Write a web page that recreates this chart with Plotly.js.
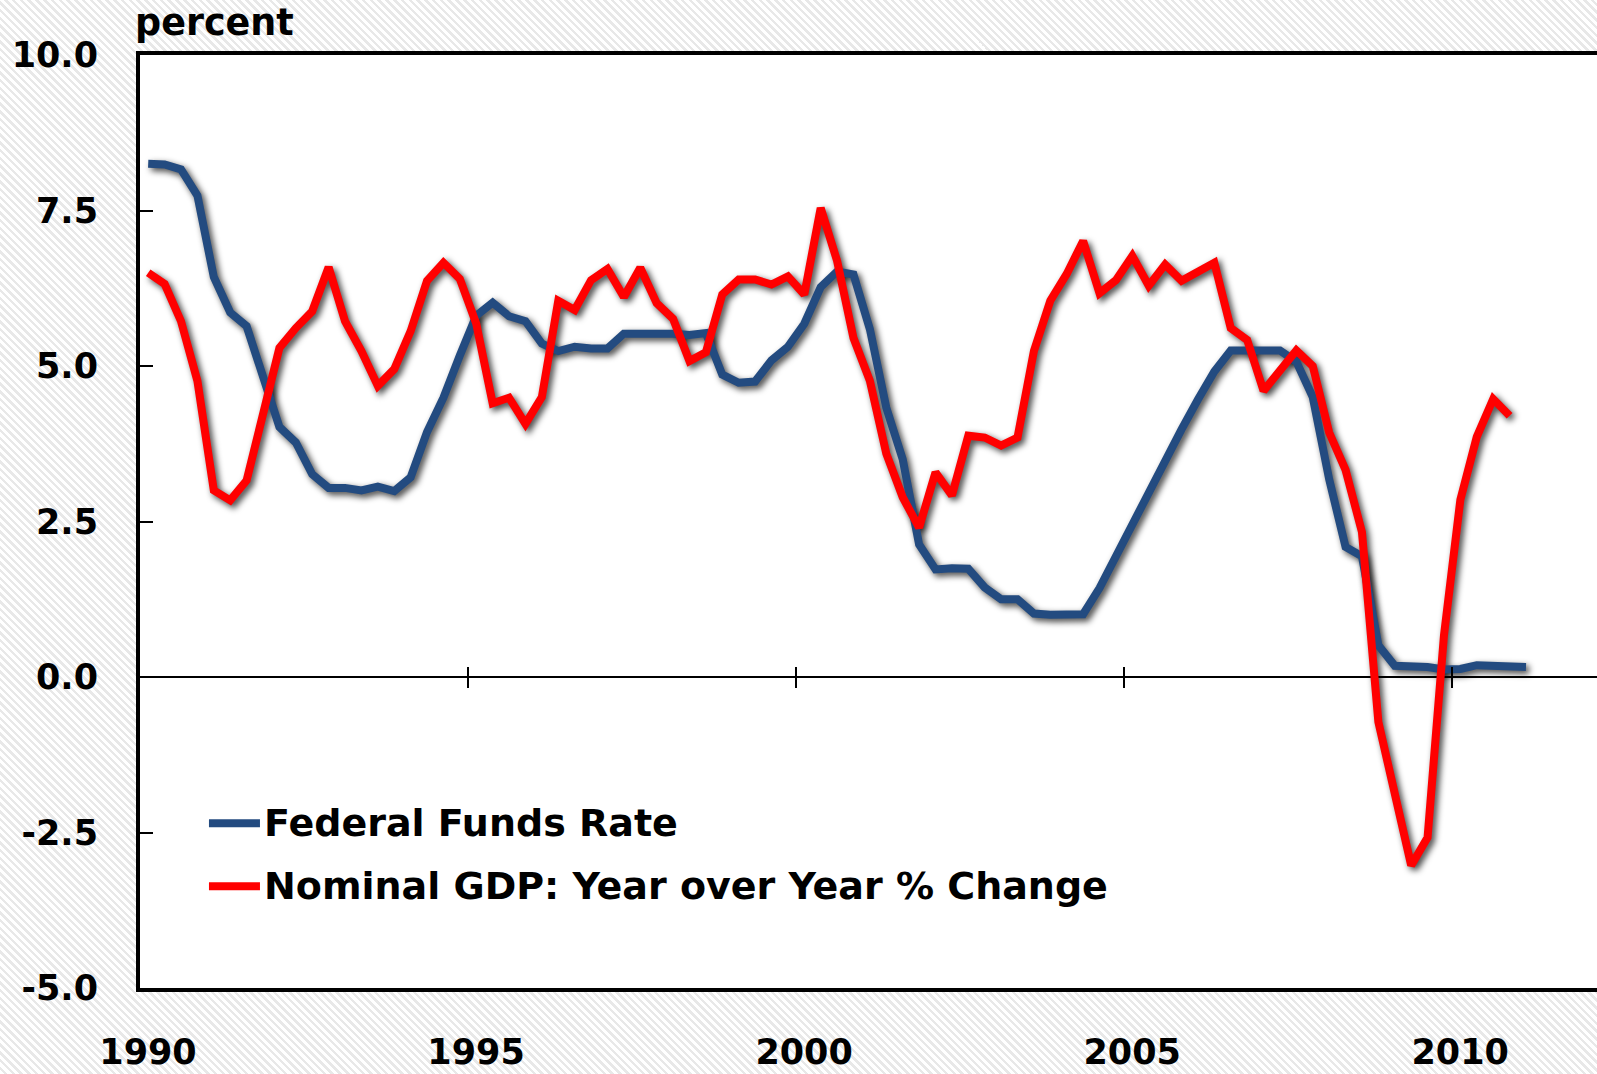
<!DOCTYPE html>
<html>
<head>
<meta charset="utf-8">
<script src="https://cdn.plot.ly/plotly-3.0.1.min.js"></script>
<style>
  html, body { margin: 0; padding: 0; width: 1597px; height: 1074px; overflow: hidden; }
  body { background: repeating-linear-gradient(45deg, #ffffff 0px, #ffffff 3px, #e8e8e8 3px, #e8e8e8 5.5px); }
  #chart { width: 1659px; height: 1074px; }
</style>
</head>
<body>
<svg width="0" height="0" style="position:absolute">
  <defs>
    <filter id="softShadow" x="-10%" y="-10%" width="120%" height="120%">
      <feGaussianBlur stdDeviation="3"/>
    </filter>
  </defs>
</svg>
<div id="chart"></div>
<script>
// ---------------- DATA ----------------
const firstYear = 1990;              // first quarter shown: 1990 Q1

const seriesNames = ['Federal Funds Rate', 'Nominal GDP: Year over Year % Change'];

// Federal funds rate, quarterly, 1990Q1 .. 2011Q1 (percent)
const fedFundsRate = [
  8.25, 8.24, 8.16, 7.74,   // 1990
  6.43, 5.86, 5.64, 4.82,   // 1991
  4.02, 3.77, 3.26, 3.04,   // 1992
  3.04, 3.00, 3.06, 2.99,   // 1993
  3.21, 3.94, 4.49, 5.17,   // 1994
  5.81, 6.02, 5.80, 5.72,   // 1995
  5.36, 5.24, 5.31, 5.28,   // 1996
  5.28, 5.52, 5.53, 5.51,   // 1997
  5.52, 5.50, 5.53, 4.86,   // 1998
  4.73, 4.75, 5.09, 5.31,   // 1999
  5.68, 6.27, 6.52, 6.47,   // 2000
  5.59, 4.33, 3.50, 2.13,   // 2001
  1.73, 1.75, 1.74, 1.44,   // 2002
  1.25, 1.25, 1.02, 1.00,   // 2003
  1.00, 1.01, 1.43, 1.95,   // 2004
  2.47, 2.94, 3.46, 3.98,   // 2005
  4.46, 4.91, 5.25, 5.25,   // 2006
  5.26, 5.25, 5.07, 4.50,   // 2007
  3.18, 2.09, 1.94, 0.51,   // 2008
  0.18, 0.18, 0.16, 0.12,   // 2009
  0.13, 0.19, 0.19, 0.19,   // 2010
  0.16                      // 2011
];

// Nominal GDP, year-over-year % change, quarterly, 1990Q1 .. 2010Q4
const nominalGdpYoY = [
  6.50, 6.32, 5.72, 4.76,   // 1990
  3.00, 2.84, 3.16, 4.25,   // 1991
  5.29, 5.61, 5.88, 6.59,   // 1992
  5.72, 5.24, 4.68, 4.95,   // 1993
  5.56, 6.37, 6.66, 6.40,   // 1994
  5.68, 4.40, 4.49, 4.07,   // 1995
  4.50, 6.05, 5.90, 6.38,   // 1996
  6.56, 6.11, 6.58, 6.01,   // 1997
  5.76, 5.08, 5.22, 6.15,   // 1998
  6.39, 6.39, 6.31, 6.44,   // 1999
  6.15, 7.54, 6.69, 5.45,   // 2000
  4.76, 3.59, 2.89, 2.40,   // 2001
  3.29, 2.92, 3.88, 3.85,   // 2002
  3.72, 3.85, 5.24, 6.05,   // 2003
  6.48, 7.01, 6.17, 6.38,   // 2004
  6.77, 6.29, 6.63, 6.37,   // 2005
  6.50, 6.66, 5.61, 5.42,   // 2006
  4.60, 4.95, 5.25, 5.00,   // 2007
  3.93, 3.33, 2.33, -0.72,  // 2008
  -1.88, -3.03, -2.58, 0.67,// 2009
  2.85, 3.86, 4.47, 4.20    // 2010
];

const xTickVals = [1990, 1995, 2000, 2005, 2010];
const xTickText = ['1990', '1995', '2000', '2005', '2010'];
const xCrossTickVals = [1995, 2000, 2005, 2010];
const yTickVals = [-5, -2.5, 0, 2.5, 5, 7.5, 10];
const yTickText = ['-5.0', '-2.5', '0.0', '2.5', '5.0', '7.5', '10.0'];
const yAxisLabel = 'percent';

// ---------------- STYLE ----------------
const xMin = 1990, xMax = 2013, yMin = -5, yMax = 10;
const blue = '#234B80', red = '#FF0000';
const fontFam = 'DejaVu Sans';
const tickFont = { family: fontFam, size: 35, weight: 'bold', color: '#000' };
const legendFont = { family: fontFam, size: 38, weight: 'bold', color: '#000' };
// shadow offset (in axis units; about 3 px right and 3 px down)
const shadowDx = 3 / 65.6, shadowDy = 3 / 62.2;

// each quarterly observation is placed at the middle of its quarter
const quarterX = (n) => Array.from({ length: n }, (_, i) => firstYear + (i + 0.5) / 4);
const xFed = quarterX(fedFundsRate.length);
const xGdp = quarterX(nominalGdpYoY.length);

const shadowLine = { color: 'rgba(0,0,0,0.7)', width: 8.5 };
const traces = [
  // soft shadows (drawn on the shifted, hidden base axes)
  { type: 'scatter', mode: 'lines', x: xFed, y: fedFundsRate, xaxis: 'x', yaxis: 'y',
    line: shadowLine, hoverinfo: 'skip', showlegend: false },
  { type: 'scatter', mode: 'lines', x: xGdp, y: nominalGdpYoY, xaxis: 'x', yaxis: 'y',
    line: shadowLine, hoverinfo: 'skip', showlegend: false },
  // the series
  { type: 'scatter', mode: 'lines', name: seriesNames[0], x: xFed, y: fedFundsRate,
    xaxis: 'x2', yaxis: 'y2', line: { color: blue, width: 8 } },
  { type: 'scatter', mode: 'lines', name: seriesNames[1], x: xGdp, y: nominalGdpYoY,
    xaxis: 'x2', yaxis: 'y2', line: { color: red, width: 8 } },
  // carriers for the tick marks crossing the zero line
  { type: 'scatter', mode: 'lines', x: [], y: [], xaxis: 'x3', yaxis: 'y2', showlegend: false, hoverinfo: 'skip' },
  { type: 'scatter', mode: 'lines', x: [], y: [], xaxis: 'x4', yaxis: 'y2', showlegend: false, hoverinfo: 'skip' }
];

const crossAxis = (dir) => ({
  overlaying: 'x', anchor: 'free', position: (0 - yMin) / (yMax - yMin),
  range: [xMin, xMax], ticks: dir, ticklen: 10, tickwidth: 2, tickcolor: '#000',
  tickmode: 'array', tickvals: xCrossTickVals, showticklabels: false,
  showline: false, showgrid: false, zeroline: false, fixedrange: true
});

const legendY = [0.1765, 0.109];
const legendX0 = 0.0457, legendX1 = 0.0795, legendTextX = 0.0808;
const layout = {
  width: 1659, height: 1074,
  margin: { l: 140, r: 10, t: 55, b: 86 },
  paper_bgcolor: 'rgba(0,0,0,0)',
  plot_bgcolor: '#ffffff',
  showlegend: false,
  xaxis: { visible: false, range: [xMin - shadowDx, xMax - shadowDx], fixedrange: true },
  yaxis: { visible: false, range: [yMin + shadowDy, yMax + shadowDy], fixedrange: true },
  xaxis2: {
    overlaying: 'x', anchor: 'y2', range: [xMin, xMax],
    showline: true, linecolor: '#000', linewidth: 4, mirror: true,
    ticks: '', tickmode: 'array', tickvals: xTickVals, ticktext: xTickText,
    tickfont: tickFont, ticklabelstandoff: 30, ticklabelshift: 8,
    showgrid: false, zeroline: false, fixedrange: true
  },
  yaxis2: {
    overlaying: 'y', anchor: 'x2', side: 'left', range: [yMin, yMax],
    showline: true, linecolor: '#000', linewidth: 4, mirror: true,
    ticks: 'inside', ticklen: 13, tickwidth: 2, tickcolor: '#000',
    tickmode: 'array', tickvals: yTickVals, ticktext: yTickText,
    tickfont: tickFont, ticklabelstandoff: 31,
    showgrid: false, zeroline: true, zerolinecolor: '#000', zerolinewidth: 1.5, fixedrange: true
  },
  xaxis3: crossAxis('outside'),
  xaxis4: crossAxis('inside'),
  shapes: [
    { type: 'line', xref: 'paper', yref: 'paper', x0: legendX0, x1: legendX1, y0: legendY[0], y1: legendY[0],
      line: { color: blue, width: 8 } },
    { type: 'line', xref: 'paper', yref: 'paper', x0: legendX0, x1: legendX1, y0: legendY[1], y1: legendY[1],
      line: { color: red, width: 8 } }
  ],
  annotations: [
    { text: yAxisLabel, xref: 'paper', yref: 'paper', x: 0, y: 1.035, xanchor: 'left', yanchor: 'middle',
      xshift: -7, showarrow: false, font: { family: fontFam, size: 36.5, weight: 'bold', color: '#000' } },
    { text: seriesNames[0], xref: 'paper', yref: 'paper', x: legendTextX, y: legendY[0], xanchor: 'left',
      yanchor: 'middle', showarrow: false, font: legendFont },
    { text: seriesNames[1], xref: 'paper', yref: 'paper', x: legendTextX, y: legendY[1], xanchor: 'left',
      yanchor: 'middle', showarrow: false, font: legendFont }
  ]
};

Plotly.newPlot('chart', traces, layout, { displayModeBar: false, staticPlot: true }).then(function () {
  // soften the two shadow traces (first two traces drawn, in the base subplot)
  const groups = document.querySelectorAll('g.scatterlayer g.trace');
  for (let k = 0; k < 2 && k < groups.length; k++) {
    groups[k].setAttribute('filter', 'url(#softShadow)');
  }
});
</script>
</body>
</html>
